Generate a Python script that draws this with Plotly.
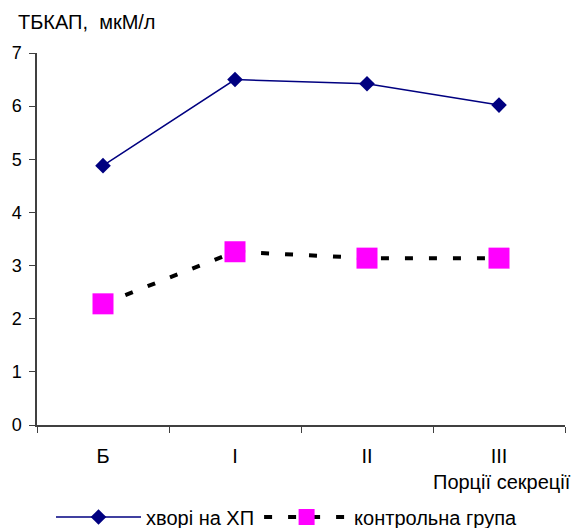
import plotly.graph_objects as go

categories = ["Б", "I", "II", "III"]
patients = [4.88, 6.5, 6.42, 6.02]
control = [2.28, 3.26, 3.14, 3.14]
y_ticks = [0, 1, 2, 3, 4, 5, 6, 7]

FONT = "Liberation Sans, Arial, sans-serif"

fig = go.Figure()
fig.add_trace(go.Scatter(
    x=categories, y=patients, mode="lines+markers", name="хворі на ХП",
    line=dict(color="#000080", width=1.5),
    marker=dict(symbol="diamond", size=12, color="#000080"),
))
fig.add_trace(go.Scatter(
    x=categories, y=control, mode="lines+markers", name="контрольна група",
    line=dict(color="black", width=4, dash="8px,16px"),
    marker=dict(symbol="square", size=21, color="#ff00ff"),
))

fig.update_layout(
    width=577, height=528,
    margin=dict(l=37, r=12, t=53, b=103, autoexpand=False),
    paper_bgcolor="white", plot_bgcolor="white",
    font=dict(family=FONT, size=18, color="black"),
    showlegend=True,
    legend=dict(orientation="h", x=(287 - 37) / 528, xanchor="center", yref="container",
                y=(528 - 517) / 528, yanchor="middle",
                font=dict(size=20), itemwidth=85, tracegroupgap=0),
    xaxis=dict(
        type="category", range=[-0.5, 3.5], tickson="boundaries",
        showline=True, linecolor="#404040", linewidth=1.5,
        ticks="outside", ticklen=6, tickcolor="#404040",
        showgrid=False, zeroline=False, automargin=False,
        tickfont=dict(size=20), ticklabelstandoff=12,
    ),
    yaxis=dict(
        range=[0, 7], tickvals=y_ticks,
        showline=True, linecolor="#404040", linewidth=1.5,
        ticks="outside", ticklen=6, tickcolor="#404040",
        showgrid=False, zeroline=False, automargin=False,
        tickfont=dict(size=18), ticklabelstandoff=4,
    ),
    annotations=[
        dict(text="ТБКАП,  мкМ/л", xref="paper", yref="paper", x=-21/528, y=1 + 31/372,
             xanchor="left", yanchor="middle", showarrow=False, font=dict(size=20)),
        dict(text="Порції секреції", xref="paper", yref="paper", x=1 + 8/528, y=-57/372,
             xanchor="right", yanchor="middle", showarrow=False, font=dict(size=20)),
    ],
)

fig.write_html("out.html")
